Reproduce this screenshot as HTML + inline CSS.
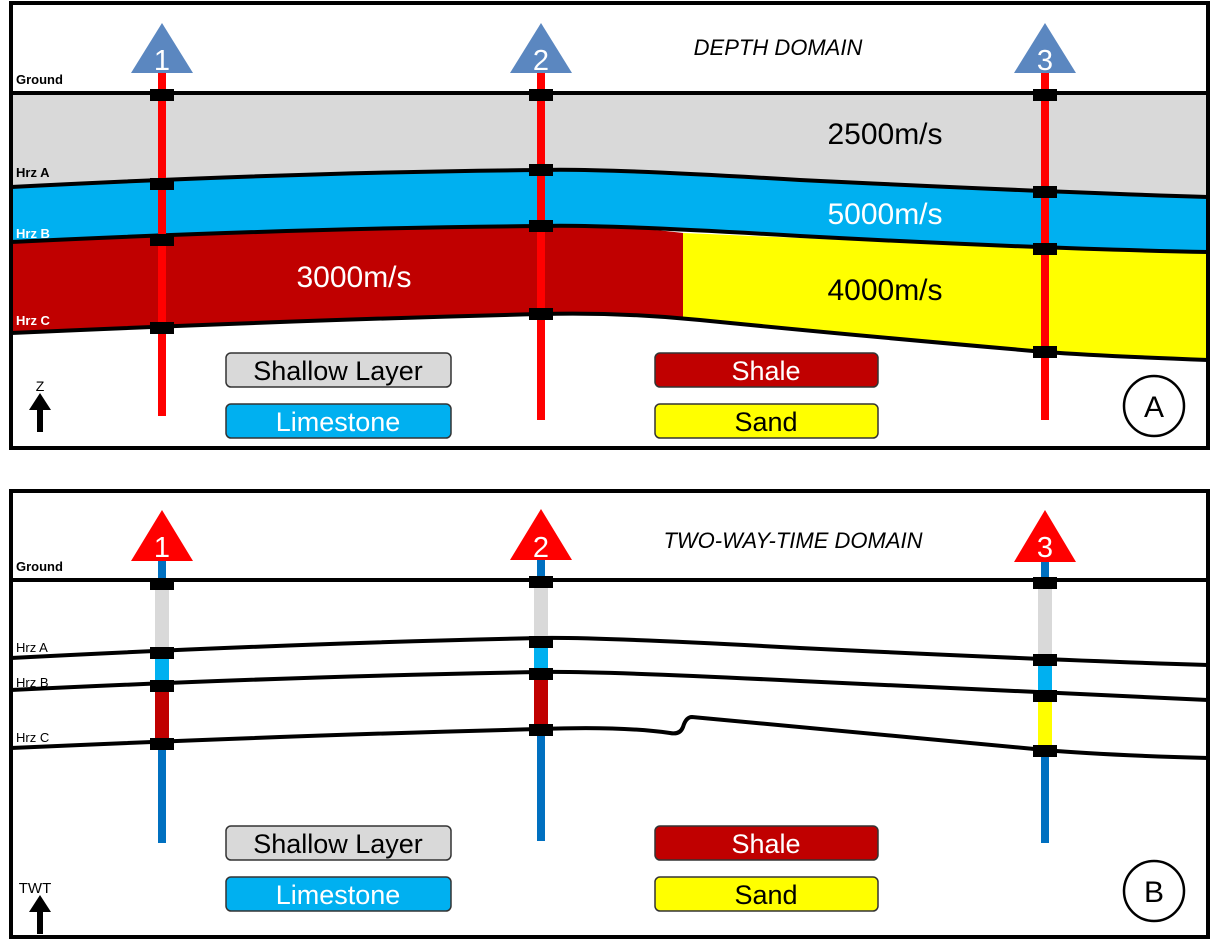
<!DOCTYPE html>
<html><head><meta charset="utf-8"><style>
html,body{margin:0;padding:0;background:#fff}
svg{display:block}
text{font-family:"Liberation Sans",sans-serif}
</style></head><body>
<svg width="1217" height="941" viewBox="0 0 1217 941" xmlns="http://www.w3.org/2000/svg">
<!-- PANEL A -->
<rect x="11" y="3" width="1197" height="445" fill="#fff" stroke="#000" stroke-width="4"/>
<!-- layers -->
<path d="M13,95 L1206,95 L1206,197 Q1045,192 800,180 Q600,168 541,170 Q300,172 13,187 Z" fill="#d9d9d9"/>
<path d="M13,187 Q300,172 541,170 Q600,168 800,180 Q1045,192 1206,197 L1206,252 Q1045,249 800,236 Q600,224 541,226 Q300,228 13,242 Z" fill="#00b0f0"/>
<path d="M13,242 Q300,228 541,226 Q620,225 683,233 L683,318 Q620,312 541,314 Q300,320 13,333 Z" fill="#c00000"/>
<path d="M683,233 Q800,238 1045,249 L1206,252 L1206,360 Q1100,356 1045,352 Q850,333 683,318 Z" fill="#ffff00"/>
<g fill="none" stroke="#000" stroke-width="4">
<line x1="11" y1="93" x2="1208" y2="93"/>
<path d="M11,187 Q300,172 541,170 Q600,168 800,180 Q1045,192 1208,197"/>
<path d="M11,242 Q300,228 541,226 Q600,224 800,236 Q1045,249 1208,252"/>
<path d="M11,333 Q300,320 541,314 Q620,312 700,320 Q850,335 1045,352 Q1100,356 1208,360"/>
</g>
<!-- wells A -->
<g fill="#ff0000"><rect x="158" y="72" width="8" height="344"/><rect x="537" y="72" width="8" height="348"/><rect x="1041" y="72" width="8" height="348"/></g>
<g fill="#5b87c0"><polygon points="162,23 131,73 193,73"/><polygon points="541,23 510,73 572,73"/><polygon points="1045,23 1014,73 1076,73"/></g>
<g fill="#fff" font-size="29" text-anchor="middle"><text x="162" y="70">1</text><text x="541" y="70">2</text><text x="1045" y="70">3</text></g>
<g fill="#000">
<rect x="150" y="89" width="24" height="12"/><rect x="529" y="89" width="24" height="12"/><rect x="1033" y="89" width="24" height="12"/>
<rect x="150" y="178" width="24" height="12"/><rect x="529" y="164" width="24" height="12"/><rect x="1033" y="186" width="24" height="12"/>
<rect x="150" y="234" width="24" height="12"/><rect x="529" y="220" width="24" height="12"/><rect x="1033" y="243" width="24" height="12"/>
<rect x="150" y="322" width="24" height="12"/><rect x="529" y="308" width="24" height="12"/><rect x="1033" y="346" width="24" height="12"/>
</g>
<g font-size="13" font-weight="bold"><text x="16" y="84">Ground</text><text x="16" y="177">Hrz A</text><text x="16" y="238" fill="#fff">Hrz B</text><text x="16" y="325" fill="#fff">Hrz C</text></g>
<text x="778" y="55" font-size="22" font-style="italic" text-anchor="middle">DEPTH DOMAIN</text>
<g font-size="30" text-anchor="middle"><text x="885" y="144">2500m/s</text><text x="885" y="224" fill="#fff">5000m/s</text><text x="354" y="287" fill="#fff">3000m/s</text><text x="885" y="300">4000m/s</text></g>
<!-- legend A -->
<g stroke="#333" stroke-width="1.5">
<rect x="226" y="353" width="225" height="34" rx="5" fill="#d9d9d9"/><rect x="226" y="404" width="225" height="34" rx="5" fill="#00b0f0"/>
<rect x="655" y="353" width="223" height="34" rx="5" fill="#c00000"/><rect x="655" y="404" width="223" height="34" rx="5" fill="#ffff00"/>
</g>
<g font-size="27" text-anchor="middle"><text x="338" y="380">Shallow Layer</text><text x="338" y="431" fill="#fff">Limestone</text><text x="766" y="380" fill="#fff">Shale</text><text x="766" y="431">Sand</text></g>
<text x="40" y="391" font-size="14" text-anchor="middle">Z</text>
<polygon points="40,393 29,410 37,410 37,432 43,432 43,410 51,410"/>
<circle cx="1154" cy="406" r="30" fill="none" stroke="#000" stroke-width="2.5"/>
<text x="1154" y="417" font-size="30" text-anchor="middle">A</text>

<!-- PANEL B -->
<rect x="11" y="491" width="1197" height="446" fill="#fff" stroke="#000" stroke-width="4"/>
<g fill="none" stroke="#000" stroke-width="4">
<line x1="11" y1="580" x2="1208" y2="580"/>
<path d="M11,658 Q300,643 541,638 Q600,637 800,648 Q1045,660 1208,665"/>
<path d="M11,690 Q300,676 541,672 Q600,671 800,681 Q1045,692 1208,700"/>
<path d="M11,748 Q300,735 541,729 Q620,726 670,733 Q680,735 683,727 Q686,717 692,717 L1045,750 Q1100,755 1208,758"/>
</g>
<g fill="#0070c0"><rect x="158" y="558" width="8" height="285"/><rect x="537" y="558" width="8" height="283"/><rect x="1041" y="558" width="8" height="285"/></g>
<g>
<rect x="155" y="584" width="14" height="69" fill="#d9d9d9"/><rect x="155" y="653" width="14" height="33" fill="#00b0f0"/><rect x="155" y="686" width="14" height="57" fill="#c00000"/>
<rect x="534" y="582" width="14" height="60" fill="#d9d9d9"/><rect x="534" y="642" width="14" height="32" fill="#00b0f0"/><rect x="534" y="674" width="14" height="55" fill="#c00000"/>
<rect x="1038" y="582" width="14" height="78" fill="#d9d9d9"/><rect x="1038" y="660" width="14" height="36" fill="#00b0f0"/><rect x="1038" y="696" width="14" height="52" fill="#ffff00"/>
</g>
<g fill="#ff0000"><polygon points="162,510 131,561 193,561"/><polygon points="541,509 510,560 572,560"/><polygon points="1045,510 1014,562 1076,562"/></g>
<g fill="#fff" font-size="29" text-anchor="middle"><text x="162" y="557">1</text><text x="541" y="557">2</text><text x="1045" y="557">3</text></g>
<g fill="#000">
<rect x="150" y="578" width="24" height="12"/><rect x="529" y="576" width="24" height="12"/><rect x="1033" y="577" width="24" height="12"/>
<rect x="150" y="647" width="24" height="12"/><rect x="529" y="636" width="24" height="12"/><rect x="1033" y="654" width="24" height="12"/>
<rect x="150" y="680" width="24" height="12"/><rect x="529" y="668" width="24" height="12"/><rect x="1033" y="690" width="24" height="12"/>
<rect x="150" y="738" width="24" height="12"/><rect x="529" y="724" width="24" height="12"/><rect x="1033" y="745" width="24" height="12"/>
</g>
<text x="16" y="571" font-size="13" font-weight="bold">Ground</text>
<g font-size="13"><text x="16" y="652">Hrz A</text><text x="16" y="687">Hrz B</text><text x="16" y="742">Hrz C</text></g>
<text x="793" y="548" font-size="22" font-style="italic" text-anchor="middle">TWO-WAY-TIME DOMAIN</text>
<g stroke="#333" stroke-width="1.5">
<rect x="226" y="826" width="225" height="34" rx="5" fill="#d9d9d9"/><rect x="226" y="877" width="225" height="34" rx="5" fill="#00b0f0"/>
<rect x="655" y="826" width="223" height="34" rx="5" fill="#c00000"/><rect x="655" y="877" width="223" height="34" rx="5" fill="#ffff00"/>
</g>
<g font-size="27" text-anchor="middle"><text x="338" y="853">Shallow Layer</text><text x="338" y="904" fill="#fff">Limestone</text><text x="766" y="853" fill="#fff">Shale</text><text x="766" y="904">Sand</text></g>
<text x="35" y="893" font-size="15" text-anchor="middle">TWT</text>
<polygon points="40,895 29,912 37,912 37,934 43,934 43,912 51,912"/>
<circle cx="1154" cy="891" r="30" fill="none" stroke="#000" stroke-width="2.5"/>
<text x="1154" y="902" font-size="30" text-anchor="middle">B</text>
</svg>
</body></html>
